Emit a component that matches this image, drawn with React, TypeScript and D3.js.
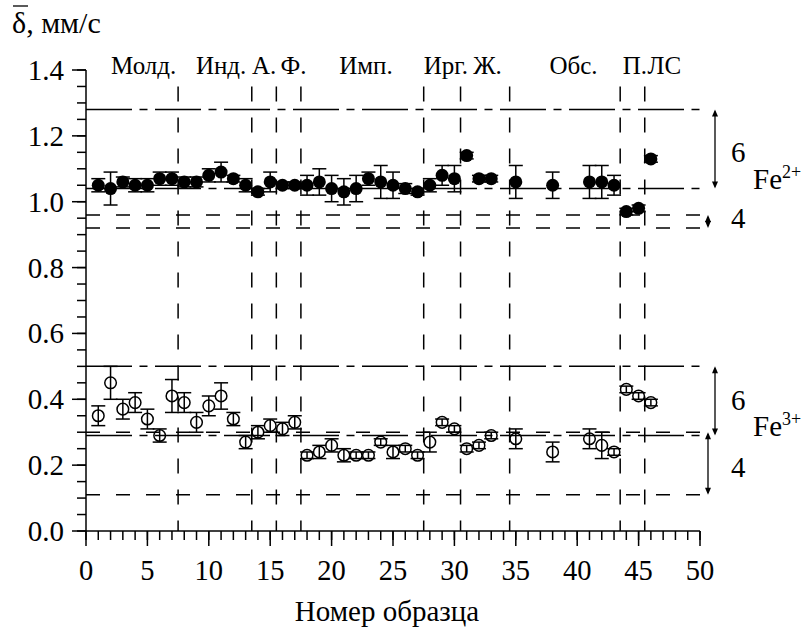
import React from 'react';
import * as d3 from 'd3';

const W = 803;
const H = 630;

// Sample numbers (same for both ions)
const samples = [1,2,3,4,5,6,7,8,9,10,11,12,13,14,15,16,17,18,19,20,21,22,23,24,25,26,27,28,29,30,31,32,33,35,38,41,42,43,44,45,46];

// Fe2+ isomer shift and errors
const fe2Values = [1.05,1.04,1.06,1.05,1.05,1.07,1.07,1.06,1.06,1.08,1.09,1.07,1.05,1.03,1.06,1.05,1.05,1.05,1.06,1.04,1.03,1.04,1.07,1.06,1.05,1.04,1.03,1.05,1.08,1.07,1.14,1.07,1.07,1.06,1.05,1.06,1.06,1.05,0.97,0.98,1.13];
const fe2Errors = [0.02,0.05,0.015,0.02,0.02,0.02,0.02,0.015,0.015,0.02,0.03,0.01,0.02,0.01,0.03,0.01,0.01,0.03,0.04,0.04,0.04,0.04,0.02,0.05,0.04,0.015,0.01,0.02,0.03,0.04,0.01,0.01,0.01,0.05,0.04,0.05,0.05,0.03,0.01,0.01,0.01];

// Fe3+ isomer shift and errors
const fe3Values = [0.35,0.45,0.37,0.39,0.34,0.29,0.41,0.39,0.33,0.38,0.41,0.34,0.27,0.30,0.32,0.31,0.33,0.23,0.24,0.26,0.23,0.23,0.23,0.27,0.24,0.25,0.23,0.27,0.33,0.31,0.25,0.26,0.29,0.28,0.24,0.28,0.26,0.24,0.43,0.41,0.39];
const fe3Errors = [0.03,0.05,0.03,0.03,0.03,0.02,0.05,0.03,0.03,0.03,0.04,0.02,0.02,0.02,0.02,0.02,0.02,0.01,0.02,0.02,0.02,0.01,0.01,0.01,0.02,0.01,0.01,0.03,0.01,0.01,0.01,0.01,0.01,0.03,0.03,0.03,0.04,0.01,0.01,0.01,0.01];

// Group separators and labels
const groupBoundaries = [7.5, 13.5, 15.5, 17.5, 27.5, 30.5, 34.5, 43.5, 45.5];
const groupLabels = ['Молд.', 'Инд.', 'А.', 'Ф.', 'Имп.', 'Ирг.', 'Ж.', 'Обс.', 'П.', 'ЛС'];
const groupLabelX = [4.7, 11.0, 14.5, 16.9, 22.8, 29.3, 32.7, 39.7, 44.7, 47.1];

// Coordination ranges (6 = dash-dot, 4 = dashed)
const fe2Range6 = [1.28, 1.04];
const fe2Range4 = [0.96, 0.92];
const fe3Range6 = [0.50, 0.29];
const fe3Range4 = [0.30, 0.11];

const xTicks = [0, 5, 10, 15, 20, 25, 30, 35, 40, 45, 50];
const xMinorTicks = d3.range(0, 51, 1);
const yTicks = [0, 0.2, 0.4, 0.6, 0.8, 1.0, 1.2, 1.4];
const yMinorTicks = d3.range(0, 1.4001, 0.05);

const FONT = 'Liberation Serif';
const C = '#000';

function T(props: any) {
  const { children, ...rest } = props;
  return (
    <text fontFamily={FONT} fill={C} {...rest}>
      {children}
    </text>
  );
}

export default function App() {
  const x = d3.scaleLinear().domain([0, 50]).range([86, 700]);
  const y = d3.scaleLinear().domain([0, 1.4]).range([531, 70]);
  const fmt = d3.format('.1f');
  const sw = 1.5;
  const dashDot = '46 7.5 8 7.5';
  const dashed = '14 16';
  const x0 = x(0);
  const x1 = x(50);
  const cap = 7;

  const hline = (v: number, dash: string, key: string) => (
    <line key={key} x1={x0} x2={x1} y1={y(v)} y2={y(v)} stroke={C} strokeWidth={sw} strokeDasharray={dash} />
  );

  const arrow = (xa: number, v1: number, v2: number, key: string) => {
    const ya = y(v1);
    const yb = y(v2);
    return (
      <g key={key}>
        <line x1={xa} x2={xa} y1={ya + 2} y2={yb - 2} stroke={C} strokeWidth={1.3} />
        <path d={`M${xa},${ya} L${xa - 3},${ya + 7} L${xa + 3},${ya + 7} Z`} fill={C} />
        <path d={`M${xa},${yb} L${xa - 3},${yb - 7} L${xa + 3},${yb - 7} Z`} fill={C} />
      </g>
    );
  };

  const errBar = (s: number, v: number, e: number, key: string) => (
    <g key={key} stroke={C} strokeWidth={sw}>
      <line x1={x(s)} x2={x(s)} y1={y(v + e)} y2={y(v - e)} />
      <line x1={x(s) - cap} x2={x(s) + cap} y1={y(v + e)} y2={y(v + e)} />
      <line x1={x(s) - cap} x2={x(s) + cap} y1={y(v - e)} y2={y(v - e)} />
    </g>
  );

  return (
    <svg width={W} height={H} style={{ position: 'absolute', left: 0, top: 0, background: '#fff' }}>
      <rect x={0} y={0} width={W} height={H} fill="#fff" />
      {/* title */}
      <T x={12} y={33} fontSize={30}>δ, мм/с</T>
      <line x1={13} x2={28} y1={6} y2={6} stroke={C} strokeWidth={1.3} />

      {/* range lines */}
      {fe2Range6.map((v, i) => hline(v, dashDot, 'f26' + i))}
      {fe2Range4.map((v, i) => hline(v, dashed, 'f24' + i))}
      {fe3Range6.map((v, i) => hline(v, dashDot, 'f36' + i))}
      {fe3Range4.map((v, i) => hline(v, dashed, 'f34' + i))}

      {/* group separators */}
      {groupBoundaries.map((b, i) => (
        <line key={'gb' + i} x1={x(b)} x2={x(b)} y1={y(1.35)} y2={y(0)} stroke={C} strokeWidth={sw} strokeDasharray="15 16" />
      ))}
      {groupLabels.map((t, i) => (
        <T key={'gl' + i} x={x(groupLabelX[i])} y={74} fontSize={25} textAnchor="middle">{t}</T>
      ))}

      {/* axes */}
      <line x1={x0} x2={x0} y1={y(1.4)} y2={y(0)} stroke={C} strokeWidth={sw} />
      <line x1={x0} x2={x1} y1={y(0)} y2={y(0)} stroke={C} strokeWidth={sw} />
      {yMinorTicks.map((v, i) => (
        <line key={'ym' + i} x1={x0 - 9} x2={x0} y1={y(v)} y2={y(v)} stroke={C} strokeWidth={sw} />
      ))}
      {yTicks.map((v, i) => (
        <g key={'yt' + i}>
          <line x1={x0 - 14} x2={x0} y1={y(v)} y2={y(v)} stroke={C} strokeWidth={sw} />
          <T x={x0 - 22} y={y(v) + 10} fontSize={29} textAnchor="end">{fmt(v)}</T>
        </g>
      ))}
      {xMinorTicks.map((v, i) => (
        <line key={'xm' + i} x1={x(v)} x2={x(v)} y1={y(0)} y2={y(0) + 9} stroke={C} strokeWidth={sw} />
      ))}
      {xTicks.map((v, i) => (
        <g key={'xt' + i}>
          <line x1={x(v)} x2={x(v)} y1={y(0)} y2={y(0) + 15} stroke={C} strokeWidth={sw} />
          <T x={x(v)} y={580} fontSize={28.5} textAnchor="middle">{v}</T>
        </g>
      ))}
      <T x={387} y={621} fontSize={29} textAnchor="middle">Номер образца</T>

      {/* Fe2+ data */}
      {samples.map((s, i) => errBar(s, fe2Values[i], fe2Errors[i], 'e2' + i))}
      {samples.map((s, i) => (
        <circle key={'c2' + i} cx={x(s)} cy={y(fe2Values[i])} r={6.5} fill={C} />
      ))}

      {/* Fe3+ data */}
      {samples.map((s, i) => (
        <circle key={'c3' + i} cx={x(s)} cy={y(fe3Values[i])} r={5.8} fill="none" stroke={C} strokeWidth={1.5} />
      ))}
      {samples.map((s, i) => errBar(s, fe3Values[i], fe3Errors[i], 'e3' + i))}

      {/* annotations on the right */}
      {arrow(x1 + 15, fe2Range6[0], fe2Range6[1], 'a1')}
      {arrow(x1 + 8, fe2Range4[0], fe2Range4[1], 'a2')}
      {arrow(x1 + 15, fe3Range6[0], fe3Range6[1], 'a3')}
      {arrow(x1 + 8, fe3Range4[0], fe3Range4[1], 'a4')}

      <T x={x1 + 31} y={y(1.121)} fontSize={29}>6</T>
      <T x={x1 + 53} y={y(1.04)} fontSize={29}>Fe<tspan fontSize={18} dy={-11}>2+</tspan></T>
      <T x={x1 + 31} y={y(0.92)} fontSize={29}>4</T>

      <T x={x1 + 31} y={y(0.367)} fontSize={29}>6</T>
      <T x={x1 + 53} y={y(0.29)} fontSize={29}>Fe<tspan fontSize={18} dy={-11}>3+</tspan></T>
      <T x={x1 + 31} y={y(0.165)} fontSize={29}>4</T>
    </svg>
  );
}
